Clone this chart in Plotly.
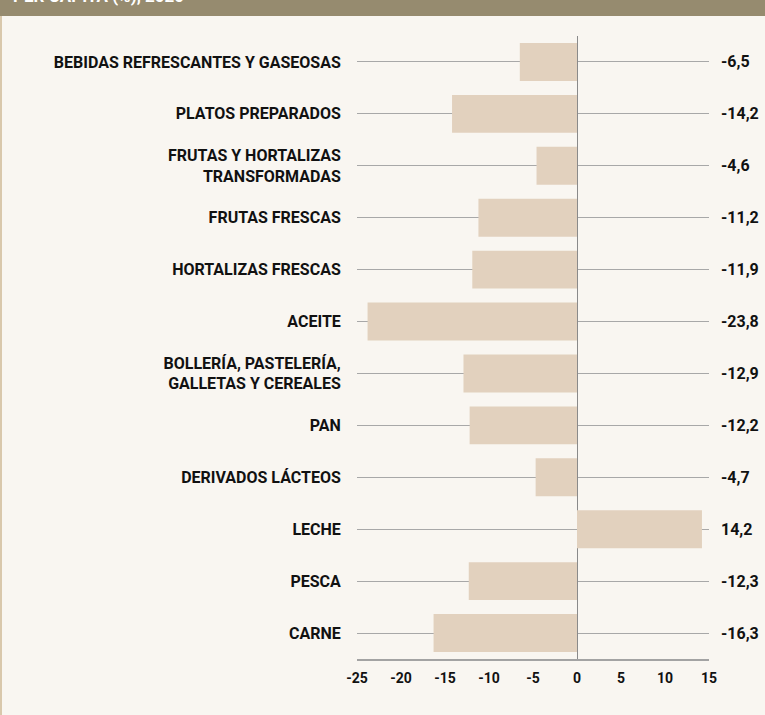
import plotly.graph_objects as go

categories = [
    "BEBIDAS REFRESCANTES Y GASEOSAS",
    "PLATOS PREPARADOS",
    "FRUTAS Y HORTALIZAS<br>TRANSFORMADAS",
    "FRUTAS FRESCAS",
    "HORTALIZAS FRESCAS",
    "ACEITE",
    "BOLLERÍA, PASTELERÍA,<br>GALLETAS Y CEREALES",
    "PAN",
    "DERIVADOS LÁCTEOS",
    "LECHE",
    "PESCA",
    "CARNE",
]
values = [-6.5, -14.2, -4.6, -11.2, -11.9, -23.8, -12.9, -12.2, -4.7, 14.2, -12.3, -16.3]
x_ticks = [-25, -20, -15, -10, -5, 0, 5, 10, 15]
header_text = "PER CÁPITA (%), 2020"

W, H = 765, 715
L, R, T, B = 357, 56, 35.5, 55.5
pw, ph = W - L - R, H - T - B

def px_x(p):
    return (p - L) / pw

def px_y(p):
    return (H - B - p) / ph

BG = "#f9f6f1"
BAR = "#e2d1be"
HEAD = "#968b6f"
FONT = "Roboto"

fig = go.Figure()
fig.add_trace(go.Bar(
    x=values, y=categories, orientation="h",
    marker=dict(color=BAR, line=dict(width=0)),
    width=0.73, hoverinfo="skip",
))

annotations = []
for c, v in zip(categories, values):
    annotations.append(dict(
        x=px_x(719), xref="paper", xanchor="left",
        y=c, yref="y", yanchor="middle",
        text=f"{v:.1f}".replace(".", ","), showarrow=False,
        font=dict(family=FONT, size=16, color="#111", weight=700),
    ))
annotations.append(dict(
    x=px_x(11), xref="paper", xanchor="left",
    y=px_y(7), yref="paper", yanchor="bottom",
    text=header_text, showarrow=False,
    font=dict(family=FONT, size=17, color="white", weight=700),
))

shapes = [
    dict(type="rect", xref="paper", yref="paper",
         x0=px_x(0), x1=px_x(W), y0=px_y(15.5), y1=px_y(-2),
         fillcolor=HEAD, line=dict(width=0), layer="below"),
    dict(type="rect", xref="paper", yref="paper",
         x0=px_x(0), x1=px_x(2), y0=px_y(H + 2), y1=px_y(15.5),
         fillcolor="#d9c8ac", line=dict(width=0), layer="below"),
]

fig.update_layout(
    width=W, height=H,
    margin=dict(l=L, r=R, t=T, b=B, pad=0),
    paper_bgcolor=BG, plot_bgcolor=BG,
    showlegend=False,
    bargap=0.27,
    annotations=annotations,
    shapes=shapes,
    xaxis=dict(
        range=[-25, 15], tickvals=x_ticks, ticktext=[str(t) for t in x_ticks],
        showgrid=False, zeroline=True, zerolinecolor="#8a8a8a", zerolinewidth=1,
        showline=True, linecolor="#a3a3a3", linewidth=1.5,
        ticks="outside", ticklen=5, tickcolor="rgba(0,0,0,0)",
        tickfont=dict(family=FONT, size=14, color="#111", weight=700),
        fixedrange=True,
    ),
    yaxis=dict(
        categoryorder="array", categoryarray=categories[::-1],
        range=[-0.5, len(categories) - 0.5],
        showgrid=True, gridcolor="#a8a8a8", gridwidth=1,
        zeroline=False, showline=False,
        ticks="outside", ticklen=12, tickcolor="rgba(0,0,0,0)",
        tickfont=dict(family=FONT, size=16, color="#111", weight=700),
        fixedrange=True,
    ),
)

fig.write_html("out.html", post_script="document.body.style.margin='0';",
               config={"displayModeBar": False})
